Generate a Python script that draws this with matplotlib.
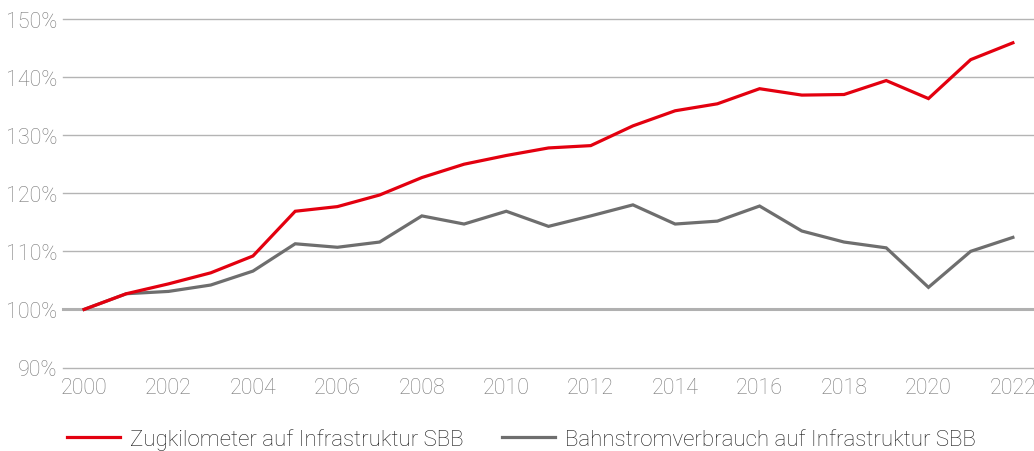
import matplotlib
matplotlib.use('Agg')
from matplotlib import pyplot as plt
from matplotlib import font_manager

years = list(range(2000, 2023))
zugkilometer = [100.0, 102.7, 104.4, 106.3, 109.2, 116.9, 117.7, 119.7, 122.7, 125.0,
                126.5, 127.8, 128.2, 131.6, 134.2, 135.4, 138.0, 136.9, 137.0, 139.4,
                136.3, 143.0, 145.9]
bahnstrom = [100.0, 102.7, 103.1, 104.2, 106.6, 111.3, 110.7, 111.6, 116.1, 114.7,
             116.9, 114.3, 116.1, 118.0, 114.7, 115.2, 117.8, 113.5, 111.6, 110.6,
             103.8, 110.0, 112.4]
labels = ['Zugkilometer auf Infrastruktur SBB', 'Bahnstromverbrauch auf Infrastruktur SBB']
y_ticks = [90, 100, 110, 120, 130, 140, 150]
x_ticks = list(range(2000, 2023, 2))

names = {f.name for f in font_manager.fontManager.ttflist}
family = 'Roboto' if 'Roboto' in names else 'DejaVu Sans'
plt.rcParams['font.family'] = [family, 'DejaVu Sans']
plt.rcParams['font.weight'] = 'light'

fig = plt.figure(figsize=(10.34, 4.52), dpi=100)
ax = fig.add_axes([63 / 1034, 1 - 368.5 / 452, 1 - 63 / 1034, (368.5 - 20) / 452])

for t in y_ticks:
    if t == 100:
        continue
    ax.axhline(t, color='#b4b4b4', lw=1.0, zorder=1, clip_on=False)
ax.axhline(100, color='#b0b0b0', lw=2.2, zorder=1, clip_on=False)

l1, = ax.plot(years, zugkilometer, color='#e3000f', lw=2.3, zorder=3,
              solid_joinstyle='miter')
l2, = ax.plot(years, bahnstrom, color='#6e6e6e', lw=2.3, zorder=2,
              solid_joinstyle='miter')

ax.set_xlim(1999.5, 2022.5)
ax.set_ylim(90, 150)
ax.set_yticks(y_ticks)
ax.set_yticklabels([f'{t}%' for t in y_ticks])
ax.set_xticks(x_ticks)
ax.set_xticklabels([str(t) for t in x_ticks])
ax.tick_params(length=0, labelsize=15.5, labelcolor='#7a7a7a')
ax.tick_params(axis='y', pad=4)
ax.tick_params(axis='x', pad=7)
for s in ax.spines.values():
    s.set_visible(False)

fig.legend([l1, l2], labels, loc='center left', bbox_to_anchor=(67 / 1034, 1 - 440 / 452),
           ncol=2, frameon=False, fontsize=16, handlelength=2.4, handletextpad=0.45,
           columnspacing=1.7, borderpad=0, borderaxespad=0, labelcolor='#1a1a1a')

fig.savefig('out.png', dpi=100)
